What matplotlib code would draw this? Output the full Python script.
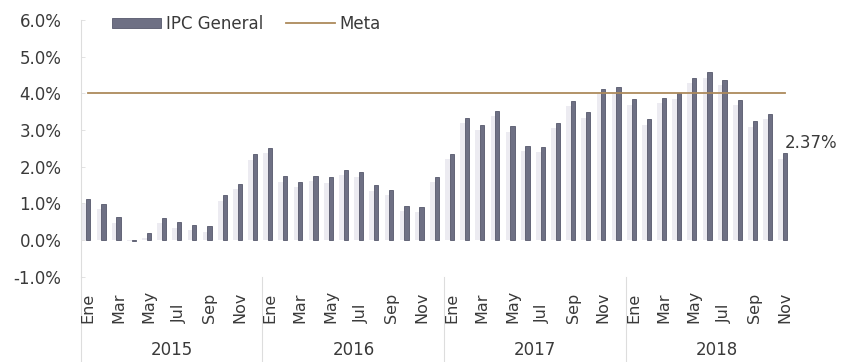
import matplotlib
matplotlib.use("Agg")
import matplotlib.pyplot as plt
from matplotlib.patches import Patch
from matplotlib.lines import Line2D

years = ["2015", "2016", "2017", "2018"]
months = ["Ene", "Feb", "Mar", "Abr", "May", "Jun", "Jul", "Ago", "Sep", "Oct", "Nov", "Dic"]

ipc_2015 = [1.13, 0.99, 0.62, -0.02, 0.21, 0.61, 0.49, 0.42, 0.38, 1.22, 1.54, 2.34]
ipc_2016 = [2.52, 1.74, 1.59, 1.76, 1.72, 1.92, 1.87, 1.50, 1.38, 0.94, 0.91, 1.73]
ipc_2017 = [2.36, 3.34, 3.15, 3.52, 3.11, 2.57, 2.54, 3.20, 3.80, 3.48, 4.12, 4.17]
ipc_2018 = [3.84, 3.30, 3.88, 4.00, 4.43, 4.58, 4.37, 3.82, 3.24, 3.45, 2.37]
meta = 4.0
last_label = "2.37%"

ipc = ipc_2015 + ipc_2016 + ipc_2017 + ipc_2018
x = list(range(len(ipc)))

TXT = "#3a3a3a"
BAR = "#6e7084"
SHADOW = "#ecebf1"
META = "#ad8a5c"

plt.rcParams["font.family"] = ["DejaVu Sans"]

fig = plt.figure(figsize=(8.46, 3.62), dpi=100)
ax = fig.add_axes([0.0954, 0.235, 0.8416, 0.71])

# soft shadow behind each bar
ax.bar([i - 0.22 for i in x], [max(v - 0.15, 0) if v > 0 else v for v in ipc],
       width=0.45, color=SHADOW, linewidth=0, zorder=1)
ax.bar(x, ipc, width=0.28, color=BAR, edgecolor="#56586b", linewidth=0.6, zorder=2)
ax.plot([x[0], x[-1]], [meta, meta], color=META, lw=1.3, zorder=3)

ax.set_xlim(-0.5, len(ipc) - 0.5)
ax.set_ylim(-1, 6)
ax.set_yticks(range(-1, 7))
ax.set_yticklabels([f"{v:.1f}%" for v in range(-1, 7)], color=TXT, fontsize=12)
ax.tick_params(axis="y", length=3, width=0.6, color="#dddddd", direction="in", pad=14)
ax.set_xticks([])

for s in ["top", "right", "bottom"]:
    ax.spines[s].set_visible(False)
ax.spines["left"].set_color("#dddddd")
ax.spines["left"].set_linewidth(0.8)

# month labels (every other month), bottom aligned
xt = ax.get_xaxis_transform()
for i in x:
    m = i % 12
    if m % 2 == 0:
        ax.text(i, -0.18, months[m], rotation=90, ha="center", va="bottom",
                fontsize=11.5, color=TXT, transform=xt)

# year labels and separators
for k, yr in enumerate(years):
    start = k * 12 - 0.5
    ax.text(start + 6, -0.285, yr, ha="center", va="center",
            fontsize=12, color=TXT, transform=xt)
    ax.plot([start, start], [0.0, -0.34], color="#dddddd", lw=0.8,
            transform=xt, clip_on=False)

ax.annotate(last_label, xy=(x[-1], ipc[-1]), xytext=(0, 7), textcoords="offset points",
            ha="left", va="center", fontsize=12, color=TXT)

handles = [Patch(facecolor=BAR, edgecolor="#56586b", linewidth=0.6),
           Line2D([0], [0], color=META, lw=1.3)]
ax.legend(handles, ["IPC General", "Meta"], loc="center left", bbox_to_anchor=(0.035, 0.985),
          ncol=2, frameon=False, fontsize=12, handlelength=2.9, handleheight=0.5,
          handletextpad=0.3, columnspacing=1.4, labelcolor=TXT, borderaxespad=0)

fig.savefig("out.png", dpi=100)
